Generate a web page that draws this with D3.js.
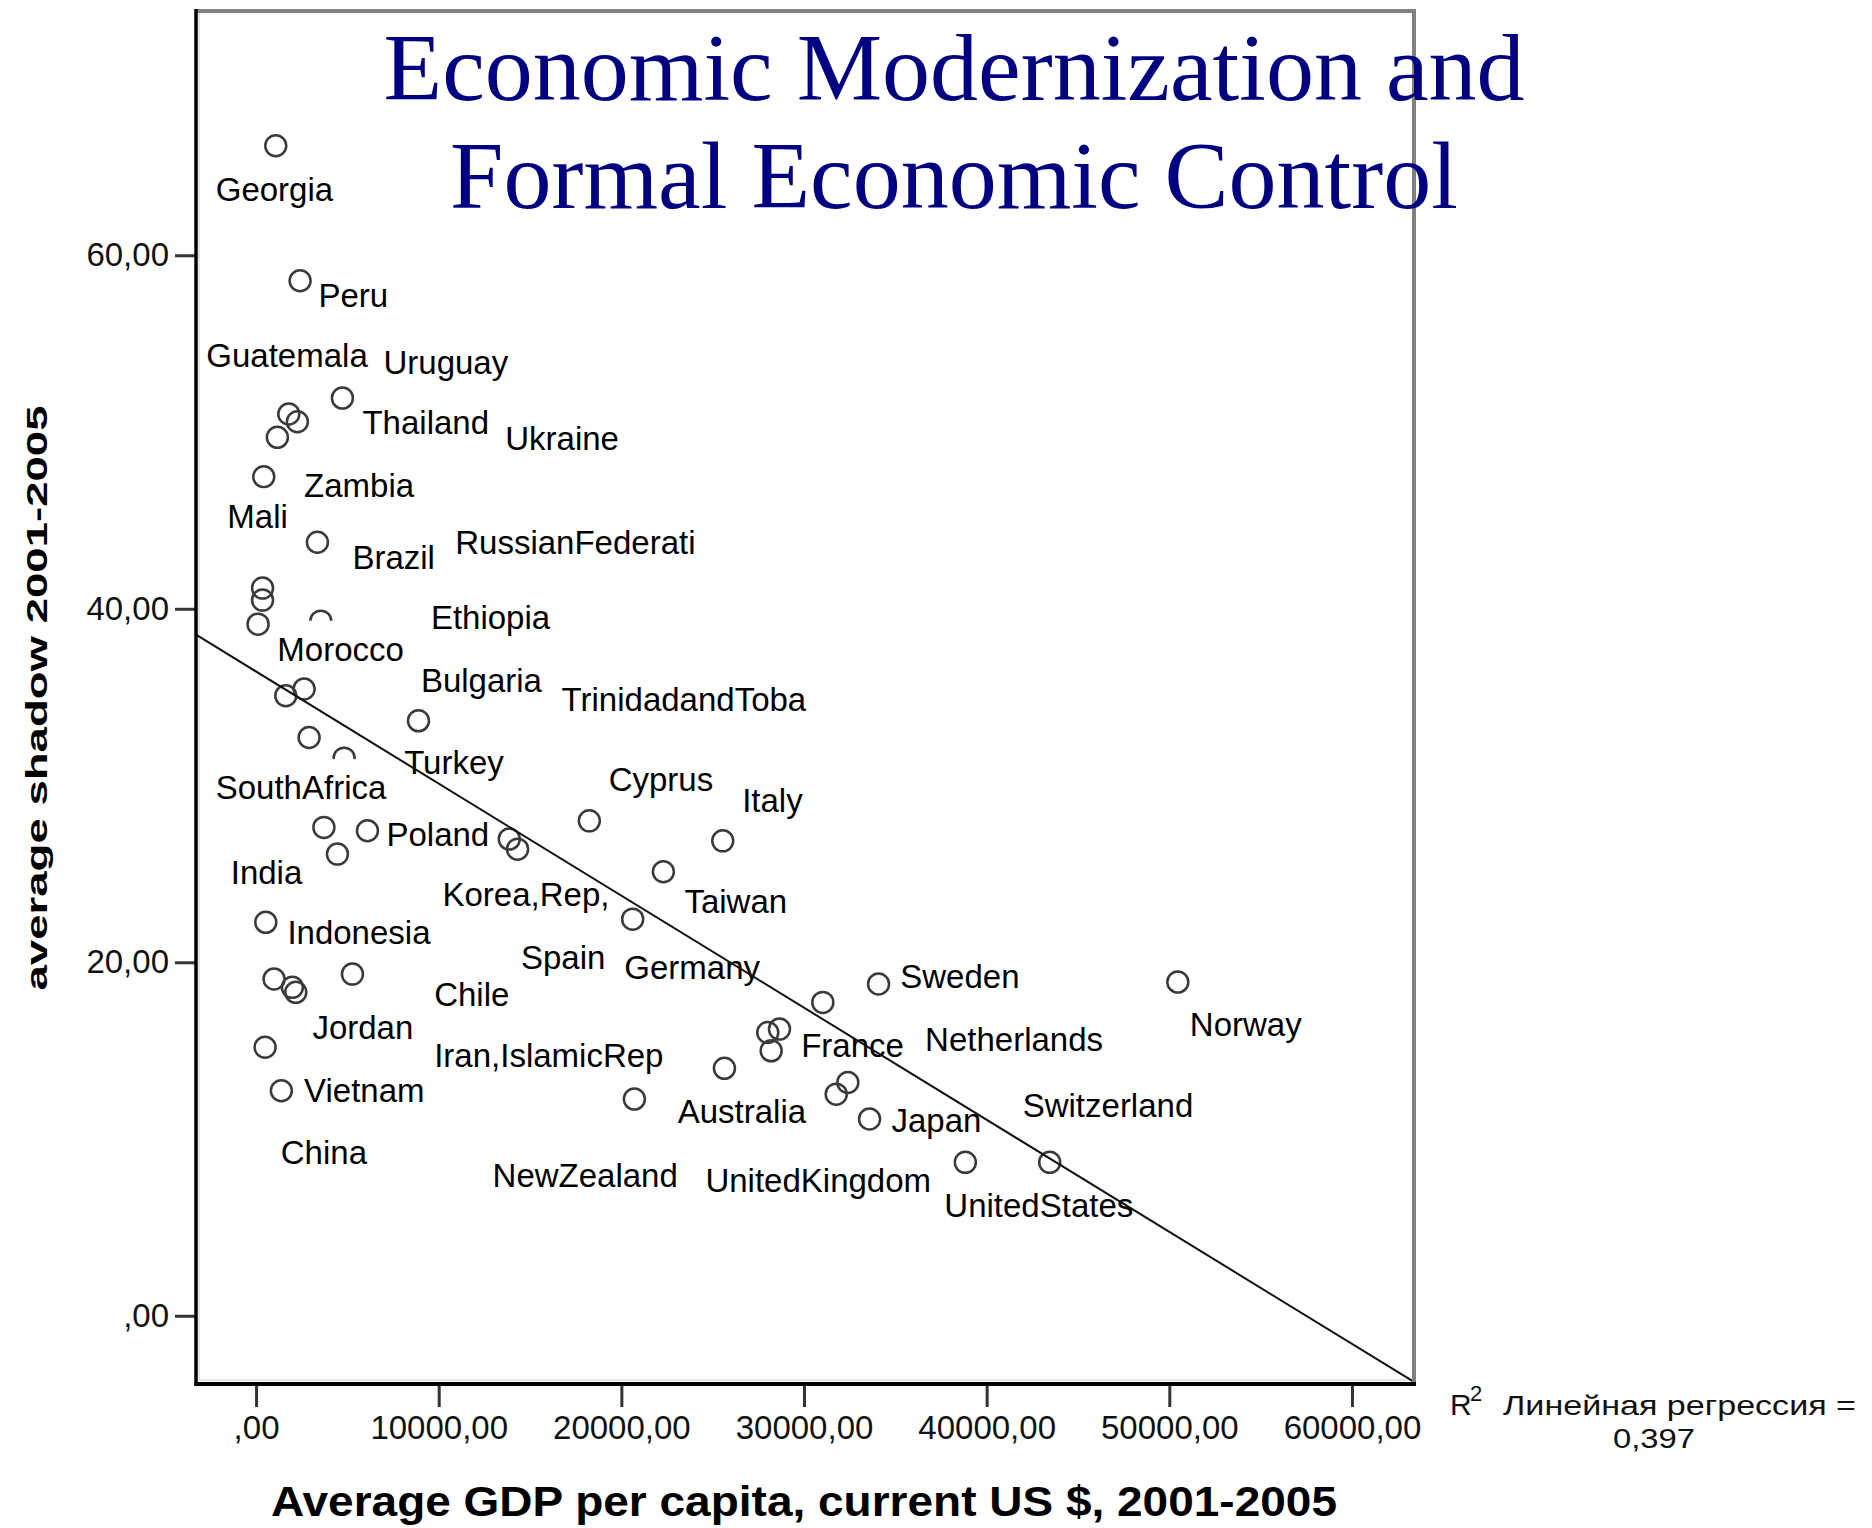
<!DOCTYPE html>
<html><head><meta charset="utf-8">
<script src="https://cdn.jsdelivr.net/npm/d3@7"></script>
<style>body{margin:0;background:#fff}</style>
</head><body><svg id="chart" width="1872" height="1528"></svg>
<script>
// ---- data ----
const gdp = [1079, 2411, 4729, 1792, 2263, 1167, 422, 3359, 356, 356, 110, 3545, 1627, 2630, 8893, 2904, 4822, 18247, 3715, 6099, 4455, 13863, 14318, 25551, 22301, 532, 20619, 986, 1989, 2175, 5277, 34082, 50466, 31030, 28016, 28658, 28203, 493, 25644, 1386, 20712, 31764, 32400, 33589, 38833, 43452];
const shadow = [66.2, 58.56, 51.92, 51.02, 50.58, 49.70, 47.47, 43.76, 41.17, 40.49, 39.13, 39.3, 35.08, 35.46, 33.66, 32.72, 31.55, 28.0, 27.63, 27.44, 26.12, 26.97, 26.40, 26.87, 25.12, 22.26, 22.44, 19.05, 18.58, 18.30, 19.33, 18.77, 18.88, 17.73, 16.03, 16.22, 14.99, 15.19, 14.0, 12.73, 12.26, 12.54, 13.2, 11.13, 8.68, 8.68];

const labelNames = ["Georgia","Peru","Guatemala","Uruguay","Thailand","Ukraine","Zambia","Mali","Brazil","RussianFederati","Ethiopia","Morocco","Bulgaria","TrinidadandToba","Turkey","SouthAfrica","Poland","Cyprus","India","Italy","Korea,Rep,","Taiwan","Spain","Germany","Chile","Iran,IslamicRep","France","Australia","NewZealand","UnitedKingdom","Indonesia","Jordan","Vietnam","China","Sweden","Netherlands","Switzerland","Japan","UnitedStates","Norway"];
const labelGdp = [-2208, 3414, -2723, 6975, 5825, 13644, 2630, -1573, 5277, 10904, 9573, 1167, 9025, 16729, 8110, -2208, 7140, 19304, -1386, 26614, 10208, 23452, 14504, 20164, 9753, 9753, 29847, 23085, 12948, 24603, 1715, 3085, 2630, 1353, 35271, 36630, 41973, 34789, 37682, 51123];
const labelShadow = [63.08, 57.05, 53.66, 53.28, 49.88, 49.0, 46.35, 44.55, 42.25, 43.1, 38.85, 37.06, 35.30, 34.23, 30.65, 29.23, 26.59, 29.70, 24.42, 28.48, 23.20, 22.78, 19.62, 19.05, 17.50, 14.05, 14.62, 10.90, 7.30, 6.98, 21.03, 15.65, 12.07, 8.58, 18.52, 14.99, 11.22, 10.38, 5.57, 15.81];

const xTicks = [0, 10000, 20000, 30000, 40000, 50000, 60000];
const xTickLabels = [",00", "10000,00", "20000,00", "30000,00", "40000,00", "50000,00", "60000,00"];
const yTicks = [0, 20, 40, 60];
const yTickLabels = [",00", "20,00", "40,00", "60,00"];

const fitIntercept = 36.45;
const fitSlope = -0.000634;
const rSquaredLabel = "0,397";

const titleLines = ["Economic Modernization and", "Formal Economic Control"];
const xTitle = "Average GDP per capita, current US $, 2001-2005";
const yTitle = "average shadow 2001-2005";

// ---- drawing ----
const svg = d3.select("#chart");
const L = 196, R = 1414, T = 11, B = 1384;
const x = d3.scaleLinear().domain([-3288, 63397]).range([L, R]);
const y = d3.scaleLinear().domain([-3.86, 73.82]).range([B, T]);
const sans = "'Liberation Sans', Arial, sans-serif";

svg.append("rect").attr("width", 1872).attr("height", 1528).attr("fill", "#fff");

// inner shadow lines
svg.append("line").attr("x1", L + 3).attr("x2", L + 3).attr("y1", T).attr("y2", B - 3).attr("stroke", "#e4e4e4").attr("stroke-width", 2);
svg.append("line").attr("x1", L).attr("x2", R).attr("y1", B - 4).attr("y2", B - 4).attr("stroke", "#e4e4e4").attr("stroke-width", 2);

// points
const pts = gdp.map((g, i) => ({g, s: shadow[i]}));
svg.append("g").selectAll("circle").data(pts).join("circle")
  .attr("cx", d => x(d.g)).attr("cy", d => y(d.s)).attr("r", 10.5)
  .attr("fill", "none").attr("stroke", "#3a3a3a").attr("stroke-width", 2.5);

// labels with white boxes
const labs = labelNames.map((n, i) => ({n, g: labelGdp[i], s: labelShadow[i]}));
const lg = svg.append("g");
labs.forEach(d => {
  const grp = lg.append("g");
  const rect = grp.append("rect").attr("fill", "#fff");
  const t = grp.append("text").attr("x", x(d.g)).attr("y", y(d.s))
    .attr("font-family", sans).attr("font-size", 33).attr("fill", "#000").text(d.n);
  const w = t.node().getComputedTextLength();
  rect.attr("x", x(d.g) - 2).attr("y", y(d.s) - 40).attr("width", w + 4).attr("height", 49);
});

// regression line
const xd = x.domain();
svg.append("line")
  .attr("x1", x(xd[0])).attr("y1", y(fitIntercept + fitSlope * xd[0]))
  .attr("x2", x(xd[1])).attr("y2", y(fitIntercept + fitSlope * xd[1]))
  .attr("stroke", "#111").attr("stroke-width", 2);

// frame
svg.append("line").attr("x1", L).attr("x2", R + 2).attr("y1", T).attr("y2", T).attr("stroke", "#808080").attr("stroke-width", 4);
svg.append("line").attr("x1", R).attr("x2", R).attr("y1", T).attr("y2", B).attr("stroke", "#808080").attr("stroke-width", 4);

// axes
const xAxis = d3.axisBottom(x).tickValues(xTicks).tickFormat((d, i) => xTickLabels[i]).tickSize(23).tickPadding(9);
const gx = svg.append("g").attr("transform", `translate(0,${B})`).call(xAxis);
const yAxis = d3.axisLeft(y).tickValues(yTicks).tickFormat((d, i) => yTickLabels[i]).tickSize(21).tickPadding(6);
const gy = svg.append("g").attr("transform", `translate(${L},0)`).call(yAxis);
[gx, gy].forEach(g => {
  g.select(".domain").remove();
  g.selectAll(".tick line").attr("stroke", "#333").attr("stroke-width", 3);
  g.selectAll(".tick text").attr("font-family", sans).attr("font-size", 33).attr("fill", "#111");
});
svg.append("line").attr("x1", L).attr("x2", L).attr("y1", T - 2).attr("y2", B + 2).attr("stroke", "#000").attr("stroke-width", 3.5);
svg.append("line").attr("x1", L - 1.5).attr("x2", R + 2).attr("y1", B).attr("y2", B).attr("stroke", "#000").attr("stroke-width", 4);

// titles
svg.append("text").attr("x", 804).attr("y", 1516).attr("text-anchor", "middle")
  .attr("font-family", sans).attr("font-weight", "bold").attr("font-size", 42)
  .attr("textLength", 1066).attr("lengthAdjust", "spacingAndGlyphs").text(xTitle);
svg.append("text").attr("transform", "translate(47,698) rotate(-90)").attr("text-anchor", "middle")
  .attr("font-family", sans).attr("font-weight", "bold").attr("font-size", 29)
  .attr("textLength", 585).attr("lengthAdjust", "spacingAndGlyphs").text(yTitle);

titleLines.forEach((t, i) => {
  svg.append("text").attr("x", 954).attr("y", 100 + i * 108).attr("text-anchor", "middle")
    .attr("font-family", "'Liberation Serif', 'Times New Roman', serif").attr("font-size", 96)
    .attr("fill", "#000080").text(t);
});

// R² annotation
svg.append("text").attr("x", 1450).attr("y", 1415).attr("font-family", sans).attr("font-size", 30).attr("fill", "#111").text("R");
svg.append("text").attr("x", 1470).attr("y", 1401).attr("font-family", sans).attr("font-size", 22).attr("fill", "#111").text("2");
svg.append("text").attr("x", 1503).attr("y", 1415).attr("font-family", sans).attr("font-size", 28).attr("fill", "#111")
  .attr("textLength", 353).attr("lengthAdjust", "spacingAndGlyphs").text("Линейная регрессия =");
svg.append("text").attr("x", 1654).attr("y", 1448).attr("text-anchor", "middle").attr("font-family", sans).attr("font-size", 28).attr("fill", "#111")
  .attr("textLength", 82).attr("lengthAdjust", "spacingAndGlyphs").text(rSquaredLabel);
</script>
</body></html>
